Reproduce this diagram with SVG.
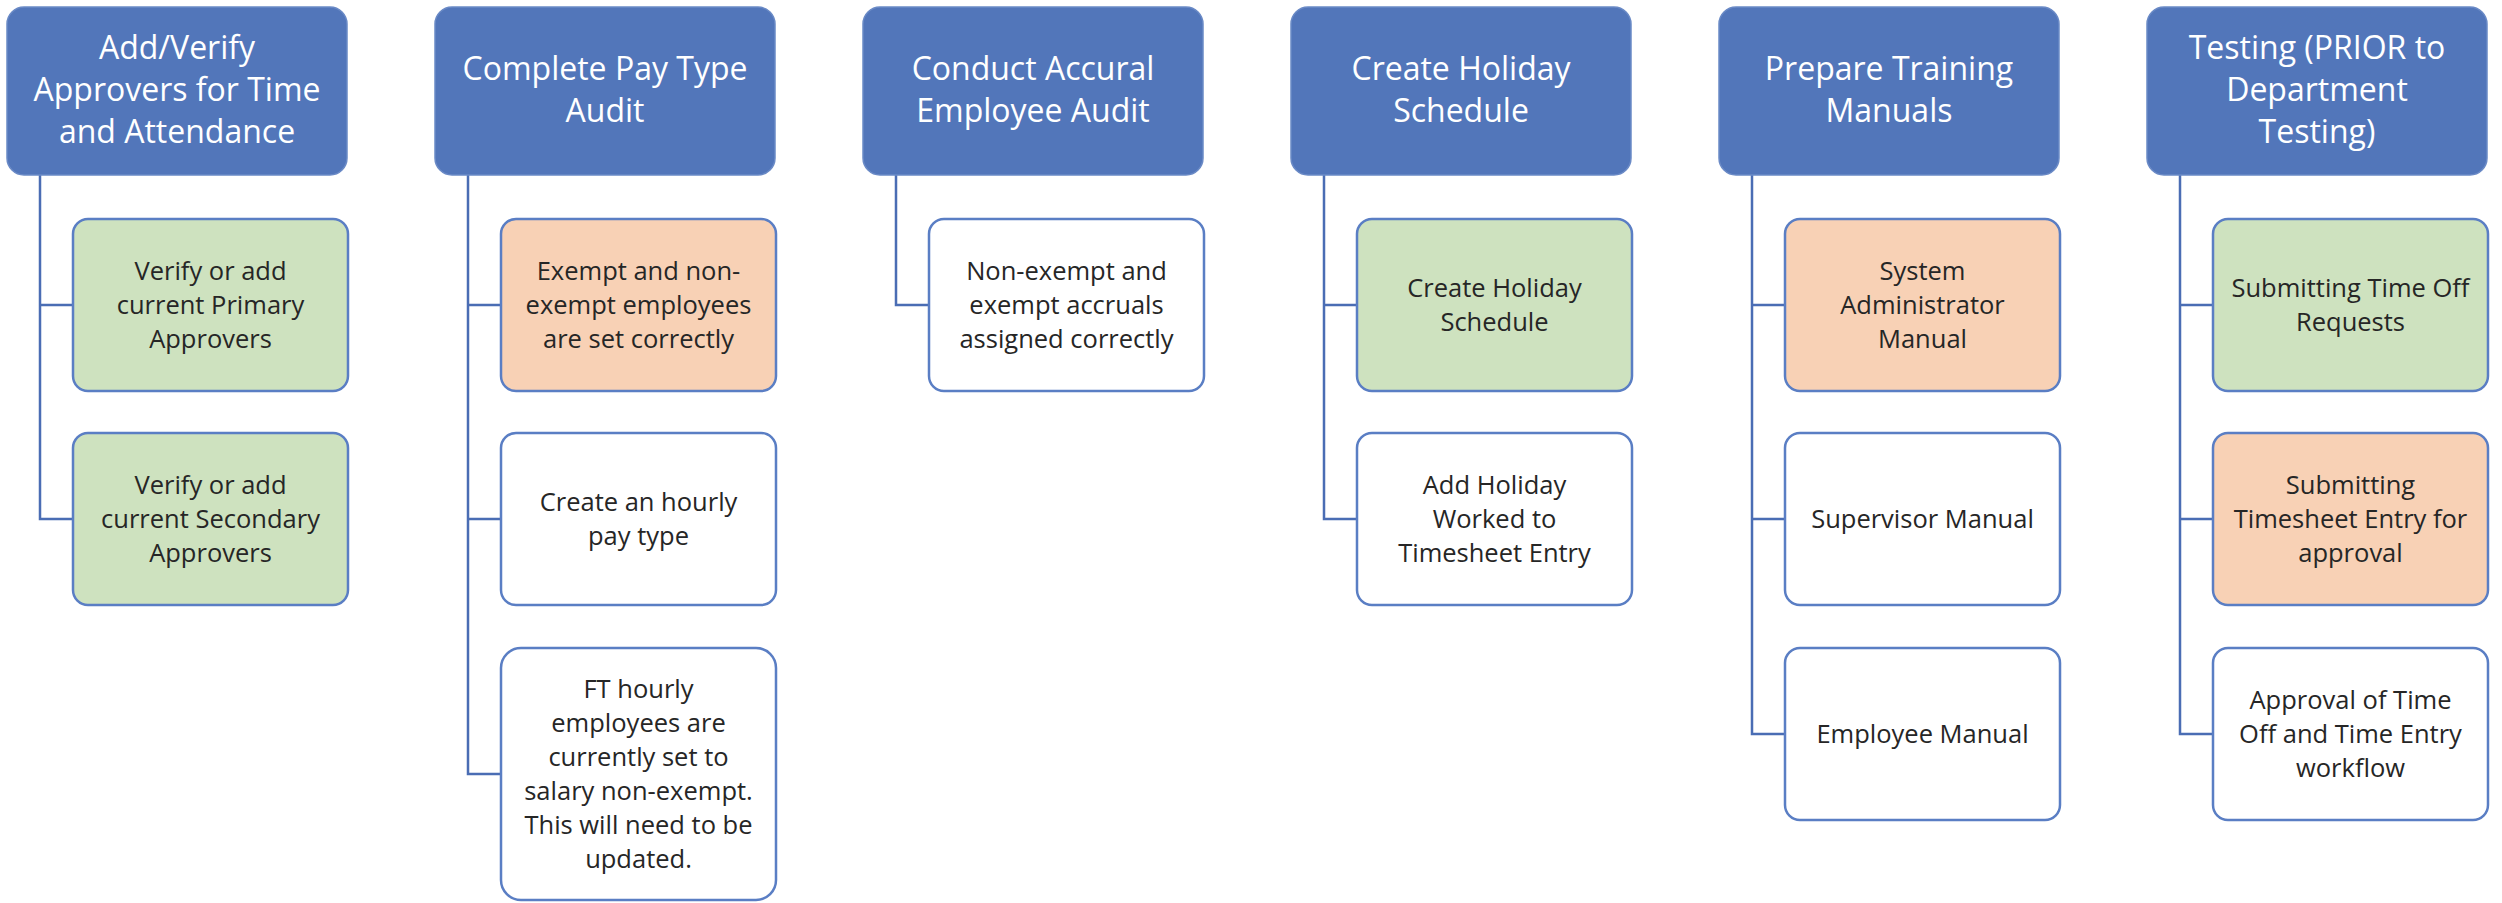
<svg xmlns="http://www.w3.org/2000/svg" width="2502" height="903" viewBox="0 0 2502 903">
<style>
.hdr{fill:#5276BA;stroke:#6A8AC6;stroke-width:1.5}
.box{stroke:#5A7EC4;stroke-width:2.5}
.g{fill:#CEE2BF}
.o{fill:#F8D1B5}
.w{fill:#FFFFFF}
.ht{font-family:"Open Sans","Liberation Sans",sans-serif;font-size:32px;fill:#FFFFFF;text-anchor:middle}
.ct{font-family:"Open Sans","Liberation Sans",sans-serif;font-size:25.5px;fill:#262626;text-anchor:middle}
.conn{fill:none;stroke:#4A6DB4;stroke-width:2.5}
</style>
<rect width="2502" height="903" fill="#FFFFFF"/>
<g id="connectors">
<path class="conn" d="M40,175 V519 H73 M40,305 H73"/>
<path class="conn" d="M468,175 V774 H502 M468,305 H502 M468,519 H502"/>
<path class="conn" d="M896,175 V305 H929"/>
<path class="conn" d="M1324,175 V519 H1357 M1324,305 H1357"/>
<path class="conn" d="M1752,175 V734 H1785 M1752,305 H1785 M1752,519 H1785"/>
<path class="conn" d="M2180,175 V734 H2213 M2180,305 H2213 M2180,519 H2213"/>
</g>
<g id="h1"><rect class="hdr" x="7" y="7" width="340" height="168" rx="17"/>
<text class="ht" x="177" y="59">Add/Verify</text><text class="ht" x="177" y="101">Approvers for Time</text><text class="ht" x="177" y="143">and Attendance</text></g>
<g id="h2"><rect class="hdr" x="435" y="7" width="340" height="168" rx="17"/>
<text class="ht" x="605" y="80">Complete Pay Type</text><text class="ht" x="605" y="122">Audit</text></g>
<g id="h3"><rect class="hdr" x="863" y="7" width="340" height="168" rx="17"/>
<text class="ht" x="1033" y="80">Conduct Accural</text><text class="ht" x="1033" y="122">Employee Audit</text></g>
<g id="h4"><rect class="hdr" x="1291" y="7" width="340" height="168" rx="17"/>
<text class="ht" x="1461" y="80">Create Holiday</text><text class="ht" x="1461" y="122">Schedule</text></g>
<g id="h5"><rect class="hdr" x="1719" y="7" width="340" height="168" rx="17"/>
<text class="ht" x="1889" y="80">Prepare Training</text><text class="ht" x="1889" y="122">Manuals</text></g>
<g id="h6"><rect class="hdr" x="2147" y="7" width="340" height="168" rx="17"/>
<text class="ht" x="2317" y="59">Testing (PRIOR to</text><text class="ht" x="2317" y="101">Department</text><text class="ht" x="2317" y="143">Testing)</text></g>

<g id="c1a"><rect class="box g" x="73" y="219" width="275" height="172" rx="15"/>
<text class="ct" x="210.5" y="280">Verify or add</text><text class="ct" x="210.5" y="314">current Primary</text><text class="ct" x="210.5" y="348">Approvers</text></g>
<g id="c1b"><rect class="box g" x="73" y="433" width="275" height="172" rx="15"/>
<text class="ct" x="210.5" y="494">Verify or add</text><text class="ct" x="210.5" y="528">current Secondary</text><text class="ct" x="210.5" y="562">Approvers</text></g>

<g id="c2a"><rect class="box o" x="501" y="219" width="275" height="172" rx="15"/>
<text class="ct" x="638.5" y="280">Exempt and non-</text><text class="ct" x="638.5" y="314">exempt employees</text><text class="ct" x="638.5" y="348">are set correctly</text></g>
<g id="c2b"><rect class="box w" x="501" y="433" width="275" height="172" rx="15"/>
<text class="ct" x="638.5" y="511">Create an hourly</text><text class="ct" x="638.5" y="545">pay type</text></g>
<g id="c2c"><rect class="box w" x="501" y="648" width="275" height="252" rx="20"/>
<text class="ct" x="638.5" y="698">FT hourly</text><text class="ct" x="638.5" y="732">employees are</text><text class="ct" x="638.5" y="766">currently set to</text><text class="ct" x="638.5" y="800">salary non-exempt.</text><text class="ct" x="638.5" y="834">This will need to be</text><text class="ct" x="638.5" y="868">updated.</text></g>

<g id="c3a"><rect class="box w" x="929" y="219" width="275" height="172" rx="15"/>
<text class="ct" x="1066.5" y="280">Non-exempt and</text><text class="ct" x="1066.5" y="314">exempt accruals</text><text class="ct" x="1066.5" y="348">assigned correctly</text></g>

<g id="c4a"><rect class="box g" x="1357" y="219" width="275" height="172" rx="15"/>
<text class="ct" x="1494.5" y="297">Create Holiday</text><text class="ct" x="1494.5" y="331">Schedule</text></g>
<g id="c4b"><rect class="box w" x="1357" y="433" width="275" height="172" rx="15"/>
<text class="ct" x="1494.5" y="494">Add Holiday</text><text class="ct" x="1494.5" y="528">Worked to</text><text class="ct" x="1494.5" y="562">Timesheet Entry</text></g>

<g id="c5a"><rect class="box o" x="1785" y="219" width="275" height="172" rx="15"/>
<text class="ct" x="1922.5" y="280">System</text><text class="ct" x="1922.5" y="314">Administrator</text><text class="ct" x="1922.5" y="348">Manual</text></g>
<g id="c5b"><rect class="box w" x="1785" y="433" width="275" height="172" rx="15"/>
<text class="ct" x="1922.5" y="528">Supervisor Manual</text></g>
<g id="c5c"><rect class="box w" x="1785" y="648" width="275" height="172" rx="15"/>
<text class="ct" x="1922.5" y="743">Employee Manual</text></g>

<g id="c6a"><rect class="box g" x="2213" y="219" width="275" height="172" rx="15"/>
<text class="ct" x="2350.5" y="297">Submitting Time Off</text><text class="ct" x="2350.5" y="331">Requests</text></g>
<g id="c6b"><rect class="box o" x="2213" y="433" width="275" height="172" rx="15"/>
<text class="ct" x="2350.5" y="494">Submitting</text><text class="ct" x="2350.5" y="528">Timesheet Entry for</text><text class="ct" x="2350.5" y="562">approval</text></g>
<g id="c6c"><rect class="box w" x="2213" y="648" width="275" height="172" rx="15"/>
<text class="ct" x="2350.5" y="709">Approval of Time</text><text class="ct" x="2350.5" y="743">Off and Time Entry</text><text class="ct" x="2350.5" y="777">workflow</text></g>
</svg>
